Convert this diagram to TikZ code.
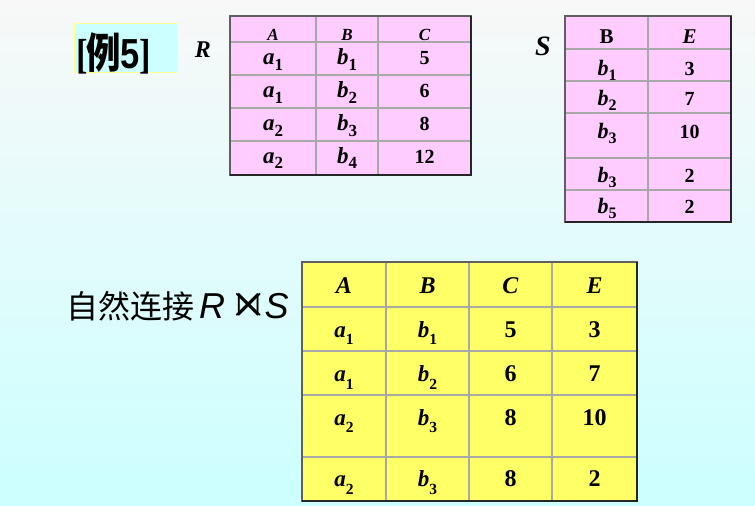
\documentclass[tikz,border=0pt]{standalone}
\usepackage{amssymb}
\usepackage{xcolor}
\usepackage{fontspec}
\setmainfont{Liberation Serif}
\newfontfamily\cjk{Noto Sans CJK SC}
\newfontfamily\arialf{Liberation Sans}
\definecolor{bgtop}{RGB}{248,248,248}
\definecolor{bgbot}{RGB}{204,255,255}
\definecolor{relpink}{RGB}{255,204,255}
\definecolor{resyellow}{RGB}{255,255,102}
\definecolor{gridgray}{RGB}{168,168,168}
\definecolor{framegray}{RGB}{95,95,95}
\definecolor{exbox}{RGB}{204,255,255}
\definecolor{exline}{RGB}{255,255,140}
% letter size, subscript size, drop, letter, subscript
\newcommand{\att}[5]{{\fontsize{#1}{#1}\selectfont\bfseries\itshape #4}\raisebox{-#3pt}{\fontsize{#2}{#2}\selectfont\bfseries #5}}
\newcommand{\rcell}[2]{\att{23}{17}{5.5}{#1}{#2}}
\newcommand{\scell}[2]{\att{22}{16}{5}{#1}{#2}}
\newcommand{\jcell}[2]{\att{23}{15.5}{7.5}{#1}{#2}}

\begin{document}
\begin{tikzpicture}[x=1pt,y=-1pt,
    gridline/.style={gridgray,line width=1.3pt},
    frame/.style={framegray,line width=1.6pt},
    shadowedge/.style={black!85,line width=2pt},
    rtxt/.style={anchor=base,inner sep=0pt,font=\fontsize{20}{20}\selectfont\bfseries},
    rhead/.style={rtxt,font=\fontsize{17}{17}\selectfont\bfseries\itshape},
    stxt/.style={anchor=base,inner sep=0pt,font=\fontsize{20}{20}\selectfont\bfseries},
    shead/.style={stxt,font=\fontsize{21}{21}\selectfont\bfseries},
    jtxt/.style={anchor=base,inner sep=0pt,font=\fontsize{24}{24}\selectfont\bfseries}]

     \useasboundingbox (0,0) rectangle (755,506);
     \shade[top color=bgtop,bottom color=bgbot] (0,0) rectangle (755,506);

     %Example label
     \node[draw=exline,fill=exbox,line width=1pt,minimum width=103pt,minimum height=49pt,inner sep=0pt]
          (ex) at (125.5,47.5) {};
     \node[anchor=base west,inner sep=0pt,font=\fontsize{42}{42}\selectfont\bfseries] (extxt) at (76,68)
          {\scalebox{0.82}[1]{[\kern-1pt{\cjk 例}\kern-1pt{\arialf 5}]}};

     %Relation R
     \node[anchor=base,inner sep=0pt,font=\fontsize{24}{24}\selectfont\bfseries\itshape] (lblR) at (203,57) {R};
     \fill[relpink] (230,16) rectangle (471,175);
     \draw[gridline] (316,16)--(316,175);
     \draw[gridline] (378,16)--(378,175);
     \draw[gridline] (230,42)--(471,42);
     \draw[gridline] (230,75)--(471,75);
     \draw[gridline] (230,108)--(471,108);
     \draw[gridline] (230,141)--(471,141);
     \draw[frame] (230,16) rectangle (471,175);
     \draw[shadowedge] (471,16)--(471,175)--(230,175);
     \node[rhead] (rA) at (273,40.5) {A};
     \node[rhead] (rB) at (347,40.5) {B};
     \node[rhead] (rC) at (424.5,40.5) {C};
     \node[rtxt] (ra1) at (273,64.5) {\rcell{a}{1}};
     \node[rtxt] (rb1) at (347,64.5) {\rcell{b}{1}};
     \node[rtxt] (rc1) at (424.5,64.5) {5};
     \node[rtxt] (ra2) at (273,97.5) {\rcell{a}{1}};
     \node[rtxt] (rb2) at (347,97.5) {\rcell{b}{2}};
     \node[rtxt] (rc2) at (424.5,97.5) {6};
     \node[rtxt] (ra3) at (273,130.5) {\rcell{a}{2}};
     \node[rtxt] (rb3) at (347,130.5) {\rcell{b}{3}};
     \node[rtxt] (rc3) at (424.5,130.5) {8};
     \node[rtxt] (ra4) at (273,163) {\rcell{a}{2}};
     \node[rtxt] (rb4) at (347,163) {\rcell{b}{4}};
     \node[rtxt] (rc4) at (424.5,163) {12};

     %Relation S
     \node[anchor=base,inner sep=0pt,font=\fontsize{28}{28}\selectfont\bfseries\itshape] (lblS) at (543,55) {S};
     \fill[relpink] (565,16) rectangle (731,222);
     \draw[gridline] (648,16)--(648,222);
     \draw[gridline] (565,49)--(731,49);
     \draw[gridline] (565,81)--(731,81);
     \draw[gridline] (565,113)--(731,113);
     \draw[gridline] (565,158)--(731,158);
     \draw[gridline] (565,190)--(731,190);
     \draw[frame] (565,16) rectangle (731,222);
     \draw[shadowedge] (731,16)--(731,222)--(565,222);
     \node[shead] (sB) at (606.5,43) {B};
     \node[shead] (sE) at (689.5,43) {\textit{E}};
     \node[stxt] (sb1) at (607,75.7) {\scell{b}{1}};
     \node[stxt] (se1) at (689.5,75.7) {3};
     \node[stxt] (sb2) at (607,105.7) {\scell{b}{2}};
     \node[stxt] (se2) at (689.5,105.7) {7};
     \node[stxt] (sb3) at (607,138) {\scell{b}{3}};
     \node[stxt] (se3) at (689.5,138) {10};
     \node[stxt] (sb4) at (607,182) {\scell{b}{3}};
     \node[stxt] (se4) at (689.5,182) {2};
     \node[stxt] (sb5) at (607,213) {\scell{b}{5}};
     \node[stxt] (se5) at (689.5,213) {2};

     %Natural join
     \node[anchor=base west,inner sep=0pt,font=\fontsize{32}{32}\selectfont] (join) at (66,318)
          {{\cjk 自然连接}\hspace{5pt}{\arialf\itshape\fontsize{36}{36}\selectfont R}\hspace{4pt}\raisebox{1.5pt}{\scalebox{1.8}{\fontsize{26}{26}\selectfont$\Join$}}\hspace{-3pt}{\arialf\itshape\fontsize{36}{36}\selectfont S}};
     \fill[resyellow] (302,262) rectangle (637,501);
     \draw[gridline] (386,262)--(386,501);
     \draw[gridline] (469,262)--(469,501);
     \draw[gridline] (552,262)--(552,501);
     \draw[gridline] (302,307)--(637,307);
     \draw[gridline] (302,351)--(637,351);
     \draw[gridline] (302,395)--(637,395);
     \draw[gridline] (302,457)--(637,457);
     \draw[frame] (302,262) rectangle (637,501);
     \draw[shadowedge] (637,262)--(637,501)--(302,501);
     \node[jtxt] (jA) at (344,293.3) {\textit{A}};
     \node[jtxt] (jB) at (427.5,293.3) {\textit{B}};
     \node[jtxt] (jC) at (510.5,293.3) {\textit{C}};
     \node[jtxt] (jE) at (594.5,293.3) {\textit{E}};
     \node[jtxt] (ja1) at (344,337.3) {\jcell{a}{1}};
     \node[jtxt] (jb1) at (427.5,337.3) {\jcell{b}{1}};
     \node[jtxt] (jc1) at (510.5,337.3) {5};
     \node[jtxt] (je1) at (594.5,337.3) {3};
     \node[jtxt] (ja2) at (344,381.7) {\jcell{a}{1}};
     \node[jtxt] (jb2) at (427.5,381.7) {\jcell{b}{2}};
     \node[jtxt] (jc2) at (510.5,381.7) {6};
     \node[jtxt] (je2) at (594.5,381.7) {7};
     \node[jtxt] (ja3) at (344,425) {\jcell{a}{2}};
     \node[jtxt] (jb3) at (427.5,425) {\jcell{b}{3}};
     \node[jtxt] (jc3) at (510.5,425) {8};
     \node[jtxt] (je3) at (594.5,425) {10};
     \node[jtxt] (ja4) at (344,486.7) {\jcell{a}{2}};
     \node[jtxt] (jb4) at (427.5,486.7) {\jcell{b}{3}};
     \node[jtxt] (jc4) at (510.5,486.7) {8};
     \node[jtxt] (je4) at (594.5,486.7) {2};

    \end{tikzpicture}
\end{document}
